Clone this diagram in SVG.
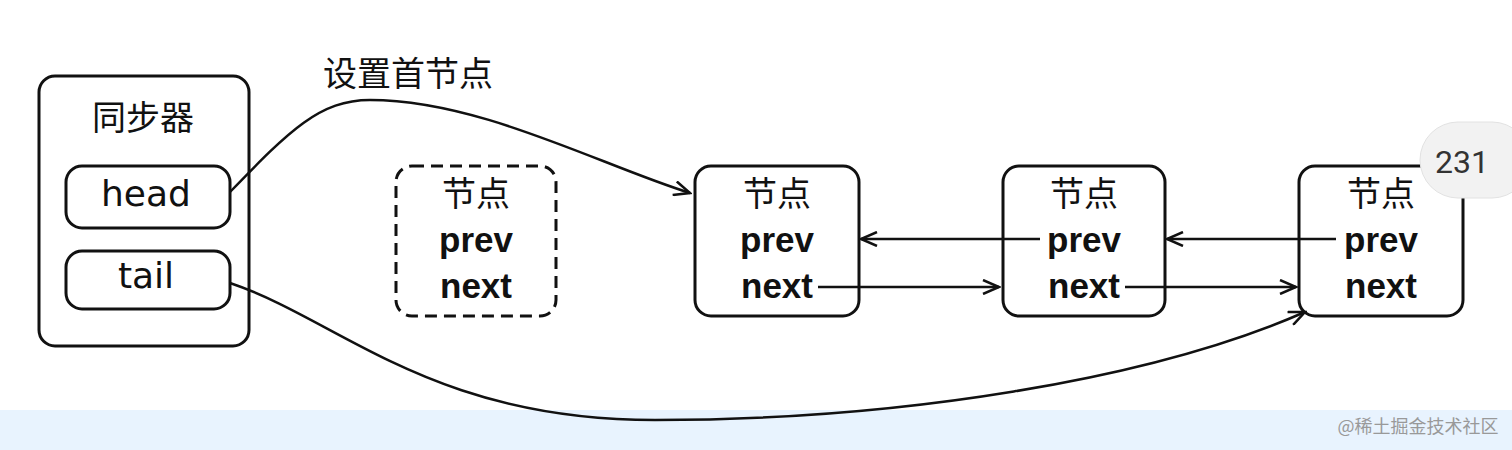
<svg xmlns="http://www.w3.org/2000/svg" width="1512" height="450" viewBox="0 0 1512 450">
<style>
.box{fill:#fff;stroke:#111;stroke-width:3}
.cn{font-family:"Liberation Sans","Noto Sans CJK SC",sans-serif;font-size:34px;fill:#111;text-anchor:middle}
.b{font-family:"Liberation Sans",sans-serif;font-weight:bold;font-size:35px;fill:#111;text-anchor:middle}
.t{font-family:"DejaVu Sans",sans-serif;font-size:36px;fill:#111;text-anchor:middle}
.ln{fill:none;stroke:#111;stroke-width:2.5}
</style>
<defs><marker id="a" markerWidth="20" markerHeight="16" refX="18" refY="8" orient="auto" markerUnits="userSpaceOnUse"><path d="M2,1 L18,8 L2,15" fill="none" stroke="#111" stroke-width="2.5"/></marker></defs>
<rect x="0" y="410" width="1512" height="40" fill="#e8f3fe"/>
<text x="1418" y="433" font-family="'Noto Sans CJK SC',sans-serif" font-size="18" fill="#999" text-anchor="middle">@稀土掘金技术社区</text>
<g id="sync"><rect class="box" x="39" y="76" width="210" height="270" rx="16"/><text class="cn" x="143" y="130">同步器</text></g>
<g id="head"><rect class="box" x="66" y="166" width="164" height="62" rx="16"/><text class="t" x="146" y="206">head</text></g>
<g id="tail"><rect class="box" x="66" y="251" width="164" height="58" rx="16"/><text class="t" x="146" y="288">tail</text></g>
<g id="n0"><rect class="box" x="396" y="166" width="160" height="150" rx="16" stroke-dasharray="12,7"/><text class="cn" x="476" y="206">节点</text><text class="b" x="476" y="252">prev</text><text class="b" x="476" y="298">next</text></g>
<g id="n1"><rect class="box" x="695" y="166" width="164" height="150" rx="16"/><text class="cn" x="777" y="206">节点</text><text class="b" x="777" y="252">prev</text><text class="b" x="777" y="298">next</text></g>
<g id="n2"><rect class="box" x="1003" y="166" width="162" height="150" rx="16"/><text class="cn" x="1084" y="206">节点</text><text class="b" x="1084" y="252">prev</text><text class="b" x="1084" y="298">next</text></g>
<g id="n3"><rect class="box" x="1299" y="166" width="164" height="150" rx="16"/><text class="cn" x="1381" y="206">节点</text><text class="b" x="1381" y="252">prev</text><text class="b" x="1381" y="298">next</text></g>
<text class="cn" x="408" y="86" font-size="38">设置首节点</text>
<g id="connectors">
<path class="ln" d="M230,192 C290,130 320,100 370,100 C480,100 600,165 690,193" marker-end="url(#a)"/>
<path class="ln" d="M230,283 C340,320 430,420 655,420 C900,420 1150,380 1305,312" marker-end="url(#a)"/>
<path class="ln" d="M1040,239 H861" marker-end="url(#a)"/>
<path class="ln" d="M1336,239 H1167" marker-end="url(#a)"/>
<path class="ln" d="M818,287 H999" marker-end="url(#a)"/>
<path class="ln" d="M1125,287 H1296" marker-end="url(#a)"/>
</g>
<rect x="1420" y="122" width="110" height="76" rx="38" fill="#f2f2f2" stroke="#e2e2e2"/>
<text x="1462" y="173" font-family="Roboto,sans-serif" font-size="32" fill="#333" text-anchor="middle">231</text>
</svg>
